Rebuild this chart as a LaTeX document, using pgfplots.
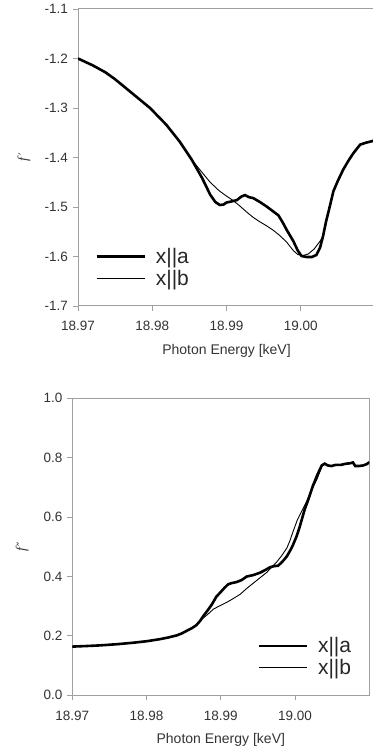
\documentclass[border=0pt]{standalone}
\usepackage{pgfplots}
\pgfplotsset{compat=1.18}
\usepackage{fontspec}
\setmainfont{Liberation Sans}
\newfontfamily\serifit{Liberation Serif}
\newfontfamily\dejavu{DejaVu Sans}
\definecolor{axgray}{RGB}{160,160,160}
\pgfplotsset{
  myax/.style={
    scale only axis, width=297pt, height=297pt,
    axis line style={axgray, line width=1pt},
    tick style={axgray, line width=0.8pt},
    tick align=outside, major tick length=5pt,
    xtick pos=left, ytick pos=left,
    xmin=18.97, xmax=19.01,
    xtick={18.97,18.98,18.99,19.00},
    xticklabels={18.97,18.98,18.99,19.00},
    ticklabel style={font=\fontsize{13.5}{16}\selectfont, text=black!80},
    x tick label style={yshift=-7pt},
    y tick label style={xshift=-1.5pt},
    xlabel style={font=\fontsize{14}{16}\selectfont, text=black!80, yshift=-6pt},
    legend style={draw=none, fill=none, font=\fontsize{21}{24}\selectfont, text=black!85, row sep=5pt, inner sep=0pt,
      nodes={inner sep=0pt},
      /tikz/every odd column/.append style={column sep=10pt}},
    legend cell align=left,
    legend image code/.code={\draw[##1] (0pt,0pt) -- (48pt,0pt);},
  },
}
\begin{document}
\begin{tikzpicture}
% top axis
\begin{axis}[myax,
  at={(78pt,446pt)}, anchor=south west,
  ymin=-1.7, ymax=-1.1, ytick={-1.7,-1.6,-1.5,-1.4,-1.3,-1.2,-1.1},
  yticklabels={-1.7,-1.6,-1.5,-1.4,-1.3,-1.2,-1.1},
  xlabel={Photon Energy [keV]},
  ylabel={{\serifit\itshape f}\kern2pt{\dejavu\fontsize{12}{12}\selectfont ′}},
  every axis y label/.style={at={(axis description cs:0,0.5)}, xshift=-54pt, rotate=90, anchor=center, font=\fontsize{14}{16}\selectfont, text=black!80},
  legend style={at={(axis description cs:0,0)}, anchor=south west, xshift=17pt, yshift=19pt},
]
\addplot[black, line width=2.6pt] coordinates {
(18.9700,-1.200) (18.9720,-1.214) (18.9737,-1.228) (18.9750,-1.242) (18.9763,-1.258) (18.9780,-1.279)
(18.9797,-1.300) (18.9819,-1.334) (18.9837,-1.368) (18.9853,-1.404) (18.9867,-1.441)
(18.9878,-1.475) (18.9885,-1.490) (18.9891,-1.496) (18.9896,-1.495) (18.9900,-1.491)
(18.9906,-1.489) (18.9914,-1.486) (18.9920,-1.479) (18.9925,-1.476) (18.9930,-1.480)
(18.9936,-1.482) (18.9945,-1.490) (18.9954,-1.499) (18.9962,-1.508) (18.9970,-1.517)
(18.9976,-1.532) (18.9981,-1.546) (18.9990,-1.569) (18.9996,-1.588) (19.0001,-1.599)
(19.0008,-1.601) (19.0015,-1.601) (19.0021,-1.597) (19.0026,-1.582) (19.0030,-1.559)
(19.0034,-1.530) (19.0037,-1.512) (19.0044,-1.468) (19.0050,-1.447) (19.0057,-1.425)
(19.0064,-1.407) (19.0071,-1.391) (19.0080,-1.374) (19.0088,-1.370) (19.0096,-1.367) (19.0100,-1.365)
};
\addlegendentry{x||a}
\addplot[black, line width=0.9pt] coordinates {
(18.9700,-1.200) (18.9720,-1.214) (18.9737,-1.228) (18.9750,-1.242) (18.9763,-1.258) (18.9780,-1.279)
(18.9797,-1.300) (18.9819,-1.334) (18.9837,-1.368) (18.9853,-1.404)
(18.9867,-1.430) (18.9878,-1.450) (18.9890,-1.467) (18.9900,-1.478) (18.9909,-1.487)
(18.9918,-1.498) (18.9927,-1.510) (18.9936,-1.521) (18.9945,-1.530) (18.9954,-1.538)
(18.9963,-1.547) (18.9972,-1.558) (18.9981,-1.571) (18.9990,-1.588) (18.9996,-1.596)
(19.0003,-1.598) (19.0010,-1.595) (19.0018,-1.585) (19.0026,-1.569) (19.0030,-1.559)
(19.0034,-1.530) (19.0037,-1.512) (19.0044,-1.468) (19.0050,-1.447) (19.0057,-1.425)
(19.0064,-1.407) (19.0071,-1.391) (19.0080,-1.374) (19.0088,-1.370) (19.0096,-1.367) (19.0100,-1.365)
};
\addlegendentry{x||b}
\end{axis}
% bottom axis
\begin{axis}[myax,
  at={(72.3pt,56.7pt)}, anchor=south west,
  ymin=0, ymax=1, ytick={0,0.2,0.4,0.6,0.8,1.0},
  yticklabels={0.0,0.2,0.4,0.6,0.8,1.0},
  xlabel={Photon Energy [keV]},
  ylabel={{\serifit\itshape f}\kern2pt{\dejavu\fontsize{12}{12}\selectfont ″}},
  every axis y label/.style={at={(axis description cs:0,0.5)}, xshift=-50pt, rotate=90, anchor=center, font=\fontsize{14}{16}\selectfont, text=black!80},
  legend style={at={(axis description cs:1,0)}, anchor=south east, xshift=-18pt, yshift=19pt},
]
\addplot[black, line width=2.6pt] coordinates {
(18.9700,0.164) (18.9720,0.166) (18.9737,0.168) (18.9760,0.172) (18.9782,0.177) (18.9800,0.182)
(18.9818,0.189) (18.9830,0.195) (18.9841,0.202) (18.9848,0.209) (18.9854,0.217) (18.9861,0.226)
(18.9867,0.236) (18.9872,0.250) (18.9876,0.265) (18.9882,0.285) (18.9888,0.306) (18.9894,0.332)
(18.9900,0.348) (18.9905,0.362) (18.9910,0.374) (18.9915,0.378) (18.9921,0.381) (18.9928,0.388)
(18.9935,0.400) (18.9944,0.405) (18.9953,0.413) (18.9960,0.422) (18.9966,0.431) (18.9972,0.435)
(18.9977,0.436) (18.9983,0.450) (18.9989,0.468) (18.9994,0.490) (18.9997,0.505) (19.0002,0.535)
(19.0006,0.565) (19.0010,0.600) (19.0013,0.626) (19.0018,0.660) (19.0024,0.705) (19.0030,0.742)
(19.0036,0.774) (19.0040,0.780) (19.0044,0.774) (19.0049,0.772) (19.0055,0.776) (19.0062,0.776)
(19.0069,0.780) (19.0074,0.781) (19.0078,0.784) (19.0081,0.772) (19.0086,0.772) (19.0092,0.774)
(19.0097,0.779) (19.0100,0.785)
};
\addlegendentry{x||a}
\addplot[black, line width=0.9pt] coordinates {
(18.9700,0.164) (18.9720,0.166) (18.9737,0.168) (18.9760,0.172) (18.9782,0.177) (18.9800,0.182)
(18.9818,0.189) (18.9830,0.195) (18.9841,0.202) (18.9848,0.209) (18.9854,0.217) (18.9861,0.226)
(18.9867,0.236) (18.9874,0.255) (18.9883,0.274) (18.9890,0.290) (18.9899,0.302) (18.9908,0.313)
(18.9917,0.326) (18.9926,0.340) (18.9935,0.360) (18.9944,0.378) (18.9953,0.396) (18.9962,0.414)
(18.9968,0.430) (18.9975,0.448) (18.9982,0.470) (18.9989,0.496) (18.9993,0.520) (18.9997,0.549)
(19.0003,0.590) (19.0010,0.625) (19.0016,0.655) (19.0023,0.695) (19.0030,0.730) (19.0036,0.770)
(19.0040,0.780) (19.0044,0.774) (19.0049,0.772) (19.0055,0.776) (19.0062,0.776)
(19.0069,0.780) (19.0074,0.781) (19.0078,0.784) (19.0081,0.772) (19.0086,0.772) (19.0092,0.774)
(19.0097,0.779) (19.0100,0.785)
};
\addlegendentry{x||b}
\end{axis}
\pgfresetboundingbox
\path[use as bounding box] (0pt,0pt) rectangle (372pt,752pt);
\end{tikzpicture}
\end{document}
